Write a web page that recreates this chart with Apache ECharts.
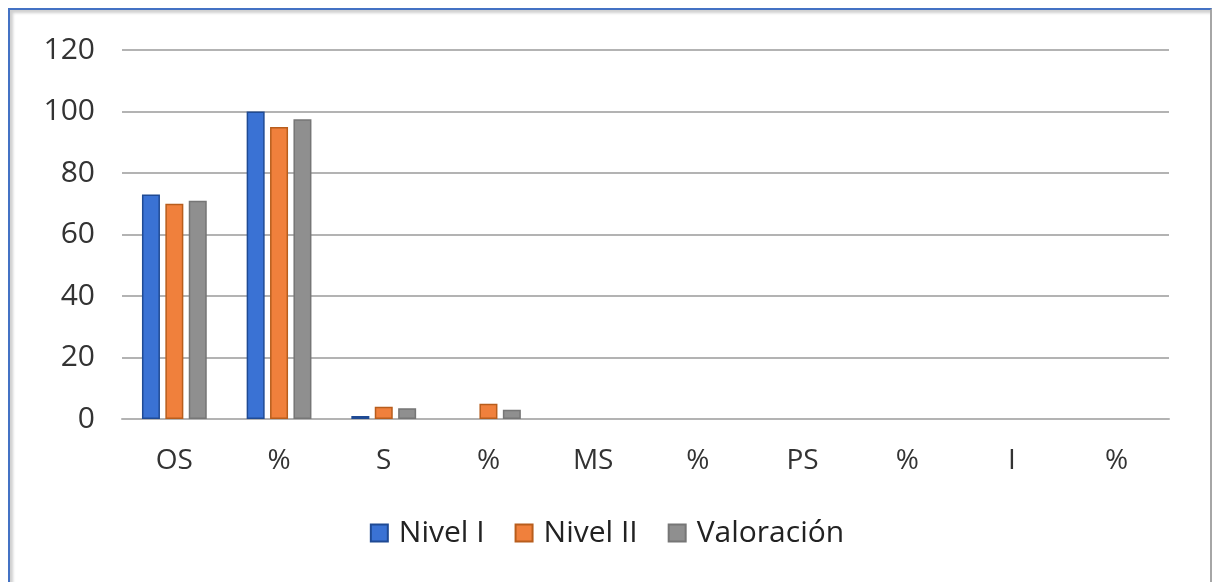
<!DOCTYPE html>
<html>
<head>
<meta charset="utf-8">
<script src="https://cdn.jsdelivr.net/npm/echarts@6/dist/echarts.min.js"></script>
<style>
    html, body { margin: 0; padding: 0; background: #fff; }
    #frame {
        position: absolute; left: 8px; top: 8px; width: 1200px; height: 580px;
        border-top: 2px solid #4472c4; border-left: 2px solid #4472c4;
        border-right: 2px solid #a6a6a6;
        box-shadow: inset 3px 3px 3px #d0d0d0;
    }
    #main { position: absolute; left: 0; top: 0; width: 1214px; height: 582px; }
</style>
</head>
<body>
<div id="frame"></div>
<div id="main"></div>
<script>
'use strict';
// categorias y valores
var categorias = ['OS', '%', 'S', '%', 'MS', '%', 'PS', '%', 'I', '%'];
var nivel1 = [73, 100, 1, 0, 0, 0, 0, 0, 0, 0];
var nivel2 = [70, 95, 4, 5, 0, 0, 0, 0, 0, 0];
var valoracion = [71, 97.5, 3.5, 3, 0, 0, 0, 0, 0, 0];

(function() {
    var myChart = echarts.init(document.getElementById('main'));
    var fuente = 'Open Sans';

    function serie(nombre, datos, color, borde) {
        return {
            name: nombre,
            type: 'bar',
            // las barras en cero no se dibujan (sin borde)
            data: datos.map(function(v) {
                return v === 0 ? { value: 0, itemStyle: { borderWidth: 0, opacity: 0 } } : v;
            }),
            barWidth: 18,
            barGap: '30%',
            itemStyle: {
                color: color,
                borderColor: borde,
                borderWidth: 1.5
            }
        };
    }

    var option = {
        animation: false,
        backgroundColor: 'transparent',
        grid: { left: 122, right: 45, top: 50, bottom: 163 },
        legend: {
            top: 513,
            left: 'center',
            itemWidth: 17,
            itemHeight: 17,
            itemGap: 30,
            icon: 'rect',
            textStyle: { fontFamily: fuente, fontSize: 30, color: '#222', padding: [0, 0, 0, 6] },
            data: ['Nivel I', 'Nivel II', 'Valoración']
        },
        xAxis: {
            type: 'category',
            data: categorias,
            axisLine: { lineStyle: { color: '#b3b3b3', width: 2 } },
            axisTick: { show: false },
            axisLabel: { fontFamily: fuente, fontSize: 28, color: '#333', margin: 28 }
        },
        yAxis: {
            type: 'value',
            min: 0,
            max: 120,
            interval: 20,
            axisLine: { show: false },
            axisTick: { show: false },
            axisLabel: { fontFamily: fuente, fontSize: 30, color: '#333', margin: 27 },
            splitLine: { lineStyle: { color: '#b3b3b3', width: 2 } }
        },
        series: [
            serie('Nivel I', nivel1, '#3a72d4', '#1f4a94'),
            serie('Nivel II', nivel2, '#f0803c', '#b85d1c'),
            serie('Valoración', valoracion, '#8f8f8f', '#767676')
        ]
    };

    myChart.setOption(option);
})();
</script>
</body>
</html>
